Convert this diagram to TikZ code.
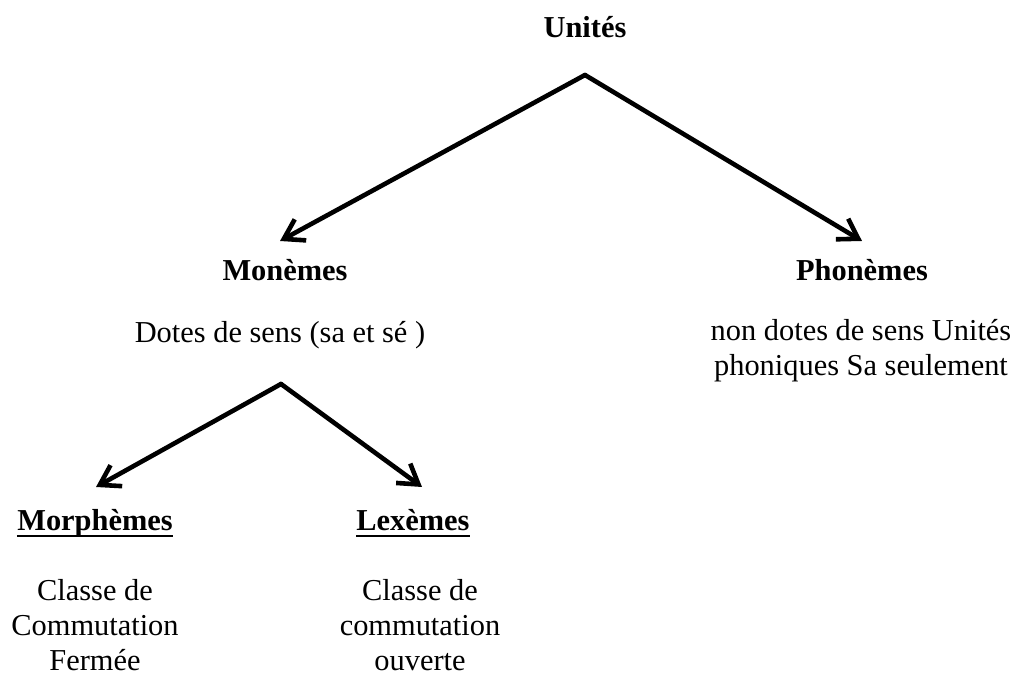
\documentclass[tikz,border=0pt]{standalone}
\usepackage{fontspec}
\setmainfont{Liberation Serif}
\usetikzlibrary{arrows.meta}
\tikzset{every node/.style={font=\fontsize{15.2}{17.5}\selectfont\rmfamily, align=center, inner sep=0pt},
  titre/.style={font=\fontsize{15.2}{17.5}\selectfont\rmfamily\bfseries},
  souligne/.style={line width=1.3pt},
  fleche/.style={-{Straight Barb[length=9.5pt,width=12pt]}, line width=2.3pt, line cap=round, line join=round}}

\begin{document}
\begin{tikzpicture}[x=0.5pt,y=-0.5pt]
	\useasboundingbox (0,0) rectangle (1022,688);
	\node[titre] (U) at (585,27) {Unités};
	\node[titre] (M) at (285,270) {Monèmes};
	\node[titre] (P) at (862,270) {Phonèmes};
	\node (Ms) at (280,335) {Dotes de sens (sa et sé )};
	\node (Ps) at (861,351) {non dotes de sens Unités\\phoniques Sa seulement};
	\node[titre, anchor=base] (Mo) at (95,531) {Morphèmes};
	\node[titre, anchor=base] (L) at (413,531) {Lexèmes};
	\node (Mos) at (95,625) {Classe de\\Commutation\\Fermée};
	\node (Ls) at (420,625) {Classe de\\commutation\\ouverte};
	% soulignement
	\draw[souligne] ([yshift=-2.6pt]Mo.base west) -- ([yshift=-2.6pt]Mo.base east);
	\draw[souligne] ([yshift=-2.6pt]L.base west) -- ([yshift=-2.6pt]L.base east);
	\coordinate (S) at (585,75);
	\coordinate (SM) at (280,241);
	\coordinate (SP) at (862,241);
	\coordinate (T) at (281,384);
	\coordinate (TMo) at (96,487);
	\coordinate (TL) at (422,487);
	\draw[fleche] (S) -- (SM);
	\draw[fleche] (S) -- (SP);
	\draw[fleche] (T) -- (TMo);
	\draw[fleche] (T) -- (TL);
\end{tikzpicture}
\end{document}
